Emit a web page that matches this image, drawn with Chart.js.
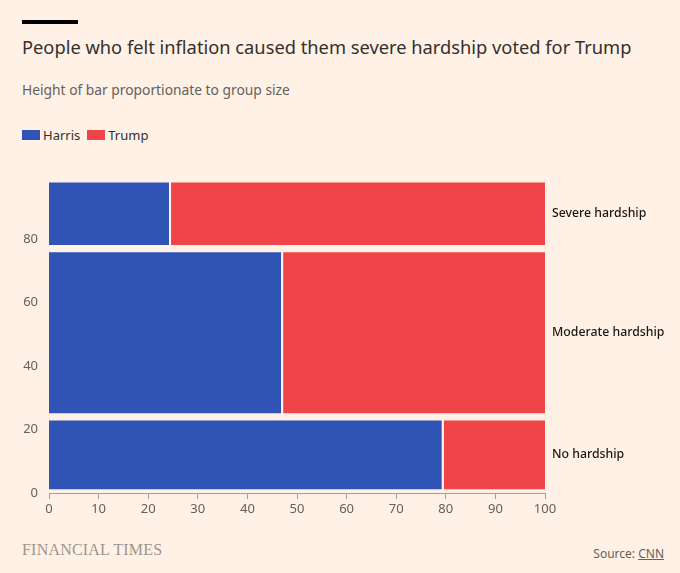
<!DOCTYPE html>
<html>
<head>
<meta charset="utf-8">
<script src="https://cdn.jsdelivr.net/npm/chart.js@4.4.1/dist/chart.umd.min.js"></script>
<style>
  html, body { margin: 0; padding: 0; }
  body { width: 680px; height: 573px; background: #fff1e5; position: relative; overflow: hidden;
         font-family: "Noto Sans", sans-serif; color: #33302e; }
  .rule { position: absolute; left: 22px; top: 20px; width: 56px; height: 4px; background: #000; }
  h1 { position: absolute; left: 22px; top: 34px; margin: 0; font-size: 18.3px; font-weight: 400; white-space: nowrap; }
  .sub { position: absolute; left: 22px; top: 80px; font-size: 13.8px; color: #66605c; }
  .legend { position: absolute; left: 22px; top: 126px; font-size: 13px; display: flex; align-items: center; }
  .legend span.sw { display: inline-block; width: 18px; height: 10px; margin-right: 3px; }
  .legend span.lab { margin-right: 7px; }
  .wrap { position: absolute; left: 0; top: 160px; width: 680px; height: 363px; }
  .ft { position: absolute; left: 22px; top: 541px; font-family: "Liberation Serif", serif; font-size: 16px;
        color: #9e958c; letter-spacing: 0.2px; }
  .src { position: absolute; right: 16px; top: 545px; font-size: 12px; color: #66605c; }
  .src u { text-decoration: underline; }
</style>
</head>
<body>
<div class="rule"></div>
<h1>People who felt inflation caused them severe hardship voted for Trump</h1>
<div class="sub">Height of bar proportionate to group size</div>
<div class="legend" id="legend"></div>
<div class="wrap"><canvas id="chart"></canvas></div>
<div class="ft">FINANCIAL TIMES</div>
<div class="src">Source: <u>CNN</u></div>

<script>
// groups, bottom to top
const categories = ['No hardship', 'Moderate hardship', 'Severe hardship'];
// share of voters in each group (%), gives the bar height
const groupShare = [24, 53, 22];
// vote split inside each group (%)
const harris = [79.4, 47, 24.4];
const trump = [20.6, 53, 75.6];

const seriesNames = ['Harris', 'Trump'];
const seriesColors = ['#2f54b5', '#ef4549'];

const yTicks = [0, 20, 40, 60, 80];
const xTicks = [0, 10, 20, 30, 40, 50, 60, 70, 80, 90, 100];

// legend
const legend = document.getElementById('legend');
seriesNames.forEach((name, i) => {
  legend.innerHTML += '<span class="sw" style="background:' + seriesColors[i] + '"></span><span class="lab">' + name + '</span>';
});

const gapY = 1.15;  // half gap between groups, in y units
const gapX = 0.2;   // half gap between Harris and Trump

// each rectangle = a top line filled down to a bottom line
const datasets = [];
const centers = [];
let base = 0;
categories.forEach((cat, i) => {
  const y0 = base + gapY;
  const y1 = base + groupShare[i] - gapY;
  centers.push(base + groupShare[i] / 2);
  base += groupShare[i];

  const parts = [[0, harris[i] - gapX], [harris[i] + gapX, harris[i] + trump[i]]];
  parts.forEach((p, s) => {
    const idx = datasets.length;
    datasets.push({
      label: seriesNames[s],
      data: [{ x: p[0], y: y1 }, { x: p[1], y: y1 }],
      backgroundColor: seriesColors[s],
      borderWidth: 0,
      pointRadius: 0,
      fill: { target: idx + 1 }
    });
    datasets.push({
      label: seriesNames[s] + ' base',
      data: [{ x: p[0], y: y0 }, { x: p[1], y: y0 }],
      borderWidth: 0,
      pointRadius: 0,
      fill: false
    });
  });
});

const tickFont = { family: 'Noto Sans', size: 13 };

new Chart(document.getElementById('chart'), {
  type: 'line',
  data: { datasets: datasets },
  options: {
    responsive: true,
    maintainAspectRatio: false,
    animation: false,
    layout: { padding: { top: 16, left: 0, right: 0, bottom: 0 } },
    plugins: { legend: { display: false }, tooltip: { enabled: false } },
    elements: { line: { tension: 0 } },
    scales: {
      x: {
        type: 'linear',
        min: 0, max: 100,
        afterBuildTicks: s => { s.ticks = xTicks.map(v => ({ value: v })); },
        afterFit: s => { s.height = 30; },
        grid: { drawOnChartArea: false, drawTicks: true, tickLength: 6, color: '#a79f97' },
        border: { color: '#a79f97', width: 1 },
        ticks: { font: tickFont, color: '#66605c', padding: 2, maxRotation: 0 }
      },
      y: {
        type: 'linear',
        min: 0, max: 99,
        afterBuildTicks: s => { s.ticks = yTicks.map(v => ({ value: v })); },
        afterFit: s => { s.width = 49; },
        grid: { display: false, drawTicks: false },
        border: { display: false },
        ticks: { font: tickFont, color: '#66605c', padding: 11 }
      },
      y2: {
        type: 'linear',
        position: 'right',
        min: 0, max: 99,
        afterBuildTicks: s => { s.ticks = centers.map(v => ({ value: v })); },
        afterFit: s => { s.width = 135; },
        grid: { display: false, drawTicks: false },
        border: { display: false },
        ticks: {
          autoSkip: false,
          font: { family: 'Noto Sans', size: 12.3, weight: '500' },
          color: '#1a1817',
          padding: 7,
          callback: v => categories[centers.indexOf(v)]
        }
      }
    }
  }
});
</script>
</body>
</html>
